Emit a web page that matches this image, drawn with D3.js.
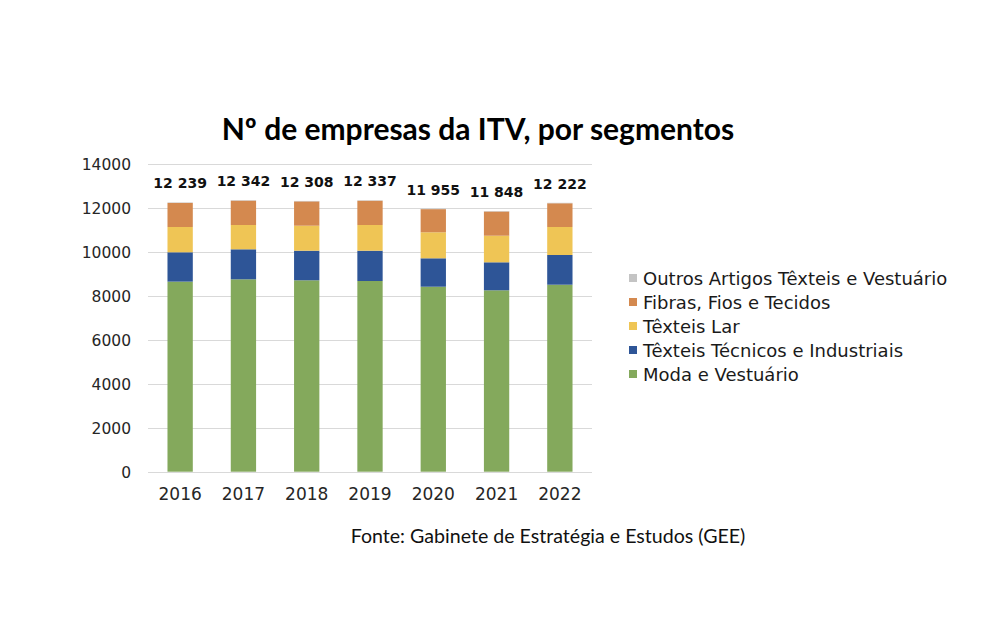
<!DOCTYPE html>
<html>
<head>
<meta charset="utf-8">
<script src="https://cdn.jsdelivr.net/npm/d3@7"></script>
<style>
body { margin: 0; background: #fff; }
</style>
</head>
<body>
<svg width="1000" height="622"></svg>
<script>
var years = ["2016", "2017", "2018", "2019", "2020", "2021", "2022"];
var totals = [12239, 12342, 12308, 12337, 11955, 11848, 12222];

var moda = [8640, 8745, 8700, 8668, 8409, 8245, 8500];
var tecnicos = [1333, 1364, 1345, 1377, 1291, 1273, 1350];
var lar = [1150, 1105, 1137, 1169, 1182, 1209, 1273];
var fibras = [1096, 1108, 1106, 1103, 1053, 1101, 1079];
var outros = [20, 20, 20, 20, 20, 20, 20];

var segNames = ["Moda e Vestuário", "Têxteis Técnicos e Industriais", "Têxteis Lar", "Fibras, Fios e Tecidos", "Outros Artigos Têxteis e Vestuário"];
var segColors = ["#84a95c", "#2e5597", "#efc555", "#d4894f", "#c4c4c4"];
var yTicks = [0, 2000, 4000, 6000, 8000, 10000, 12000, 14000];

var svg = d3.select("svg");

var rows = years.map(function(y, i) {
	return { year: y, s0: moda[i], s1: tecnicos[i], s2: lar[i], s3: fibras[i], s4: outros[i], total: totals[i] };
});

var x = d3.scaleBand().domain(years).range([148.5, 591.5]).paddingInner(0.6).paddingOuter(0.3);
var y = d3.scaleLinear().domain([0, 14000]).range([471.7, 163.7]);

// gridlines
svg.append("g")
	.selectAll("line")
	.data(yTicks)
	.enter().append("line")
	.attr("x1", 148).attr("x2", 592)
	.attr("y1", function(d) { return Math.round(y(d)) + 0.5; })
	.attr("y2", function(d) { return Math.round(y(d)) + 0.5; })
	.attr("stroke", "#d9d9d9")
	.attr("stroke-width", 1);

// y labels
svg.append("g")
	.selectAll("text")
	.data(yTicks)
	.enter().append("text")
	.attr("x", 131)
	.attr("y", function(d) { return y(d) + 6; })
	.attr("text-anchor", "end")
	.attr("font-family", "DejaVu Sans")
	.attr("font-size", 15.5)
	.attr("fill", "#262626")
	.text(function(d) { return d; });

// x labels
svg.append("g")
	.selectAll("text")
	.data(years)
	.enter().append("text")
	.attr("x", function(d) { return x(d) + x.bandwidth() / 2; })
	.attr("y", 500)
	.attr("text-anchor", "middle")
	.attr("font-family", "DejaVu Sans")
	.attr("font-size", 17)
	.attr("fill", "#262626")
	.text(function(d) { return d; });

var stack = d3.stack().keys(["s0", "s1", "s2", "s3", "s4"]);
var series = stack(rows);

svg.append("g")
	.selectAll("g")
	.data(series)
	.enter().append("g")
	.attr("fill", function(d, i) { return segColors[i]; })
	.selectAll("rect")
	.data(function(d) { return d; })
	.enter().append("rect")
	.attr("x", function(d) { return x(d.data.year); })
	.attr("width", x.bandwidth())
	.attr("y", function(d) { return y(d[1]); })
	.attr("height", function(d) { return y(d[0]) - y(d[1]); });

// totals
svg.append("g")
	.selectAll("text")
	.data(rows)
	.enter().append("text")
	.attr("x", function(d) { return x(d.year) + x.bandwidth() / 2; })
	.attr("y", function(d) { return y(d.total) - 14; })
	.attr("text-anchor", "middle")
	.attr("font-family", "DejaVu Sans")
	.attr("font-weight", "bold")
	.attr("font-size", 14)
	.attr("fill", "#111")
	.text(function(d) { return d3.format(",")(d.total).replace(",", " "); });

// legend
var legend = svg.append("g")
	.selectAll("g")
	.data(segNames.slice().reverse())
	.enter().append("g")
	.attr("transform", function(d, i) { return "translate(629," + (278 + i * 24) + ")"; });

legend.append("rect")
	.attr("x", 0).attr("y", -4)
	.attr("width", 8).attr("height", 8)
	.attr("fill", function(d, i) { return segColors[segColors.length - 1 - i]; });

legend.append("text")
	.attr("x", 14)
	.attr("y", 6.5)
	.attr("font-family", "DejaVu Sans")
	.attr("font-size", 18)
	.attr("fill", "#1a1a1a")
	.text(function(d) { return d; });

// title
svg.append("text")
	.attr("x", 478)
	.attr("y", 140)
	.attr("text-anchor", "middle")
	.attr("font-family", "Lato")
	.attr("font-weight", "bold")
	.attr("font-size", 30)
	.attr("fill", "#000")
	.text("Nº de empresas da ITV, por segmentos");

svg.append("text")
	.attr("x", 548)
	.attr("y", 543)
	.attr("text-anchor", "middle")
	.attr("font-family", "Lato")
	.attr("font-size", 19.6)
	.attr("fill", "#111")
	.text("Fonte: Gabinete de Estratégia e Estudos (GEE)");
</script>
</body>
</html>
